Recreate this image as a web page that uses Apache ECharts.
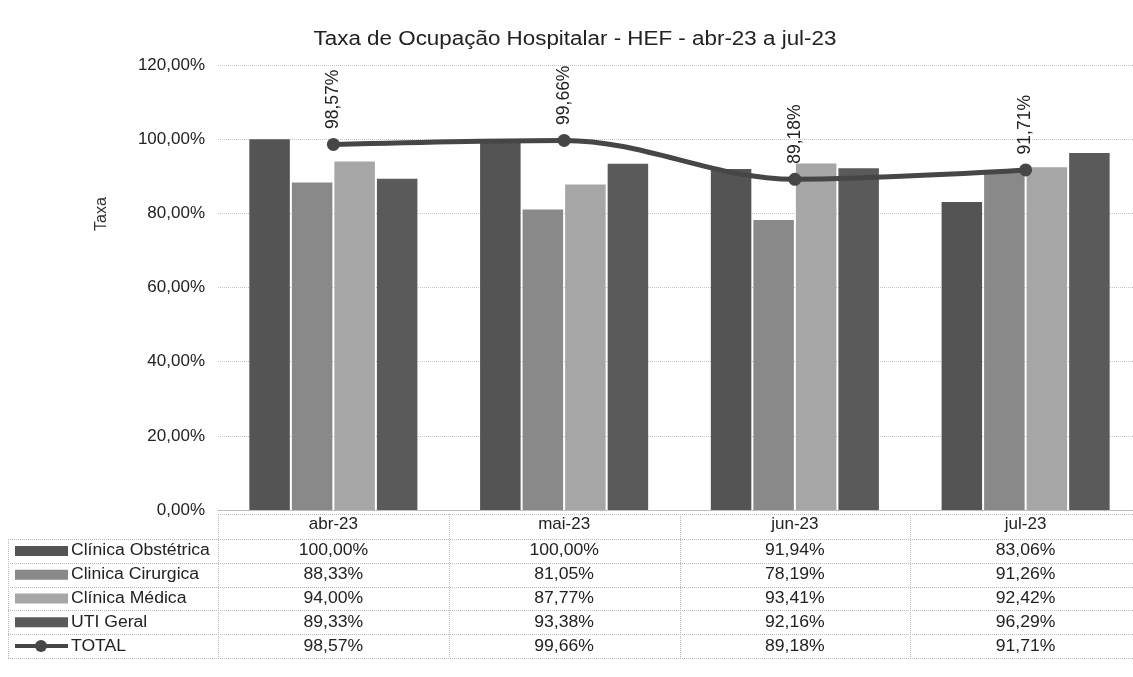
<!DOCTYPE html>
<html>
<head>
<meta charset="utf-8">
<script src="https://cdn.jsdelivr.net/npm/echarts@6/dist/echarts.min.js"></script>
<style>
  html, body { margin: 0; padding: 0; background: #fff; overflow: hidden; }
  /* canvas runs a few pixels past the window so the last column is cut at the edge */
  #chart { width: 1141px; height: 677px; }
</style>
</head>
<body>
<div id="chart"></div>
<script>
// Months shown on the category axis
const months = ['abr-23', 'mai-23', 'jun-23', 'jul-23'];

// Occupancy rate per unit (%)
const obstetrica = [100.00, 100.00, 91.94, 83.06];
const cirurgica  = [88.33, 81.05, 78.19, 91.26];
const medica     = [94.00, 87.77, 93.41, 92.42];
const utiGeral   = [89.33, 93.38, 92.16, 96.29];
const total      = [98.57, 99.66, 89.18, 91.71];

// Y axis ticks
const yTicks = [0, 20, 40, 60, 80, 100, 120];

const chartTitle = 'Taxa de Ocupação Hospitalar - HEF - abr-23 a jul-23';
const yName = 'Taxa';

const barSeries = [
  { name: 'Clínica Obstétrica', data: obstetrica, color: '#545454' },
  { name: 'Clinica Cirurgica',  data: cirurgica,  color: '#898989' },
  { name: 'Clínica Médica',     data: medica,     color: '#a6a6a6' },
  { name: 'UTI Geral',          data: utiGeral,   color: '#5a5a5a' }
];
const lineSeries = { name: 'TOTAL', data: total, color: '#464646' };

const FONT = '"Liberation Sans", Arial, sans-serif';
const pct = v => v.toFixed(2).replace('.', ',') + '%';
const WIDEN = 1.1; // horizontal stretch applied to table text

const chart = echarts.init(document.getElementById('chart'), null, { renderer: 'canvas' });

const option = {
  animation: false,
  backgroundColor: '#ffffff',
  textStyle: { fontFamily: FONT },
  grid: { left: 218, right: 0, top: 65, bottom: 167, containLabel: false },
  xAxis: {
    type: 'category',
    data: months,
    boundaryGap: true,
    axisLine: { show: true, lineStyle: { color: '#b0b0b0', type: 'dotted', width: 1 } },
    axisTick: { show: false },
    axisLabel: { margin: 6, fontSize: 17, color: '#222', fontFamily: FONT }
  },
  yAxis: {
    type: 'value',
    min: yTicks[0],
    max: yTicks[yTicks.length - 1],
    interval: yTicks[1] - yTicks[0],
    axisLine: { show: false },
    axisTick: { show: false },
    axisLabel: { margin: 13, fontSize: 17, color: '#222', fontFamily: FONT, formatter: v => pct(v) },
    splitLine: { lineStyle: { color: '#c4c4c4', type: 'dotted', width: 1 } }
  },
  series: [
    ...barSeries.map(s => ({
      name: s.name,
      type: 'bar',
      data: s.data,
      barWidth: 40.5,
      barGap: '5%',
      itemStyle: { color: s.color }
    })),
    {
      name: lineSeries.name,
      type: 'line',
      data: lineSeries.data,
      smooth: 0.35,
      symbol: 'circle',
      symbolSize: 13,
      z: 5,
      lineStyle: { color: lineSeries.color, width: 5 },
      itemStyle: { color: lineSeries.color },
      label: {
        show: true,
        position: 'top',
        distance: 9,
        rotate: 90,
        align: 'left',
        verticalAlign: 'middle',
        fontSize: 17.5,
        color: '#222',
        fontFamily: FONT,
        formatter: p => pct(p.value)
      }
    }
  ],
  graphic: []
};

chart.setOption(option);

// Title, axis name and the data table beneath the plot, aligned with the category bands
function buildExtras() {
  const centers = months.map((m, i) => chart.convertToPixel({ xAxisIndex: 0 }, i));
  const band = centers.length > 1 ? centers[1] - centers[0] : 230;
  const left = centers[0] - band / 2;
  const right = centers[centers.length - 1] + band / 2;
  const keyLeft = 8;
  const headerTop = 514;
  const headerH = 25;
  const rowH = 23.8;
  const rows = [...barSeries.map(s => ({ name: s.name, data: s.data, color: s.color, kind: 'bar' })),
                { name: lineSeries.name, data: lineSeries.data, color: lineSeries.color, kind: 'line' }];
  const tableBottom = headerTop + headerH + rowH * rows.length;
  const g = [];
  const lineStyle = { stroke: '#b8b8b8', lineWidth: 1, lineDash: [1, 1] };

  const text = (x, y, str, size, align, extra) => Object.assign({
    type: 'text', x: x, y: y, scaleX: WIDEN,
    style: { text: str, font: size + 'px ' + FONT, fill: '#222', textAlign: align, textVerticalAlign: 'middle' }
  }, extra || {});

  g.push(text(575, 39, chartTitle, 20, 'center', { scaleX: 1.12 }));
  g.push({
    type: 'text', x: 102, y: 214, rotation: Math.PI / 2,
    style: { text: yName, font: '16px ' + FONT, fill: '#333', textAlign: 'center', textVerticalAlign: 'middle' }
  });

  // horizontal rules
  g.push({ type: 'line', shape: { x1: left, y1: headerTop + 0.5, x2: right, y2: headerTop + 0.5 }, style: lineStyle });
  for (let r = 0; r <= rows.length; r++) {
    const y = Math.round(headerTop + headerH + r * rowH) + 0.5;
    g.push({ type: 'line', shape: { x1: keyLeft, y1: y, x2: right, y2: y }, style: lineStyle });
  }
  // vertical rules
  g.push({ type: 'line', shape: { x1: keyLeft + 0.5, y1: headerTop + headerH, x2: keyLeft + 0.5, y2: tableBottom }, style: lineStyle });
  for (let c = 0; c <= months.length; c++) {
    const x = Math.round(left + c * band) + 0.5;
    g.push({ type: 'line', shape: { x1: x, y1: headerTop, x2: x, y2: tableBottom }, style: lineStyle });
  }

  rows.forEach((row, r) => {
    const cy = headerTop + headerH + r * rowH + rowH / 2;
    if (row.kind === 'bar') {
      g.push({ type: 'rect', shape: { x: 15, y: cy - 5, width: 53, height: 10 }, style: { fill: row.color } });
    } else {
      g.push({ type: 'line', shape: { x1: 15, y1: cy, x2: 68, y2: cy }, style: { stroke: row.color, lineWidth: 4 } });
      g.push({ type: 'circle', shape: { cx: 41, cy: cy, r: 6 }, style: { fill: row.color } });
    }
    g.push(text(71, cy, row.name, 16, 'left'));
    row.data.forEach((v, i) => {
      g.push(text(centers[i], cy, pct(v), 16, 'center'));
    });
  });

  chart.setOption({ graphic: g });
}
buildExtras();
</script>
</body>
</html>
